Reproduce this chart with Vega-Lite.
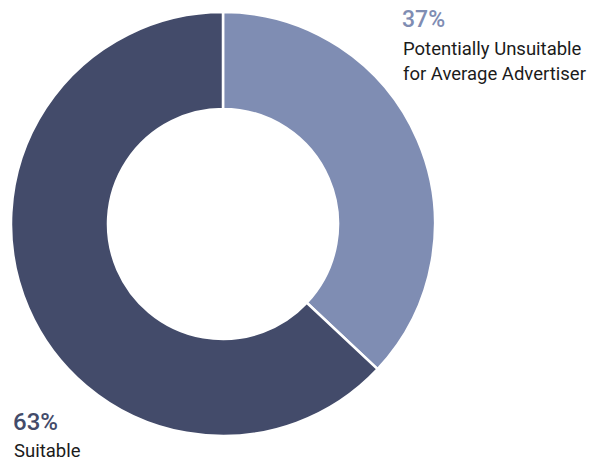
{
  "$schema": "https://vega.github.io/schema/vega-lite/v6.json",
  "width": 592,
  "height": 461,
  "autosize": "none",
  "padding": 0,
  "background": "white",
  "config": {"view": {"stroke": null}},
  "data": {
    "values": [
      {"category": "Potentially Unsuitable\nfor Average Advertiser", "key": "unsuitable", "order": 1, "value": 0.37},
      {"category": "Suitable", "key": "suitable", "order": 2, "value": 0.63}
    ]
  },
  "resolve": {"scale": {"x": "shared", "y": "shared"}},
  "layer": [
    {
      "mark": {"type": "arc", "outerRadius": 212, "innerRadius": 115, "stroke": "white", "strokeWidth": 2.5},
      "encoding": {
        "theta": {"field": "value", "type": "quantitative", "stack": true},
        "order": {"field": "order", "type": "quantitative"},
        "color": {"field": "key", "type": "nominal", "scale": {"domain": ["unsuitable", "suitable"], "range": ["#7f8db3", "#434b6a"]}, "legend": null},
        "x": {"datum": 223, "type": "quantitative", "scale": {"domain": [0, 592], "nice": false, "zero": false}, "axis": null},
        "y": {"datum": 224, "type": "quantitative", "scale": {"domain": [461, 0], "nice": false, "zero": false}, "axis": null}
      }
    },
    {
      "transform": [{"filter": "datum.key == 'unsuitable'"}],
      "mark": {"type": "text", "align": "left", "baseline": "alphabetic", "font": "Roboto", "fontWeight": 500, "fontSize": 23, "color": "#7f8db3"},
      "encoding": {
        "text": {"field": "value", "type": "quantitative", "format": ".0%"},
        "x": {"datum": 402, "type": "quantitative"},
        "y": {"datum": 27, "type": "quantitative"}
      }
    },
    {
      "transform": [{"filter": "datum.key == 'unsuitable'"}],
      "mark": {"type": "text", "align": "left", "baseline": "alphabetic", "font": "Roboto", "fontSize": 18.5, "lineHeight": 25, "lineBreak": "\n", "color": "#1b1b1b"},
      "encoding": {
        "text": {"field": "category", "type": "nominal"},
        "x": {"datum": 403, "type": "quantitative"},
        "y": {"datum": 55, "type": "quantitative"}
      }
    },
    {
      "transform": [{"filter": "datum.key == 'suitable'"}],
      "mark": {"type": "text", "align": "left", "baseline": "alphabetic", "font": "Roboto", "fontWeight": 500, "fontSize": 24, "color": "#434b6a"},
      "encoding": {
        "text": {"field": "value", "type": "quantitative", "format": ".0%"},
        "x": {"datum": 13, "type": "quantitative"},
        "y": {"datum": 430, "type": "quantitative"}
      }
    },
    {
      "transform": [{"filter": "datum.key == 'suitable'"}],
      "mark": {"type": "text", "align": "left", "baseline": "alphabetic", "font": "Roboto", "fontSize": 18.5, "color": "#1b1b1b"},
      "encoding": {
        "text": {"field": "category", "type": "nominal"},
        "x": {"datum": 14, "type": "quantitative"},
        "y": {"datum": 457, "type": "quantitative"}
      }
    }
  ]
}
